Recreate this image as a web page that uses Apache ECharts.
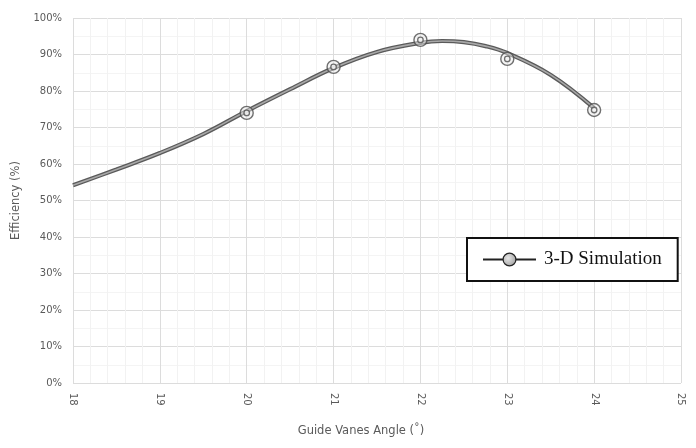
<!DOCTYPE html>
<html>
<head>
<meta charset="utf-8">
<script src="https://cdn.jsdelivr.net/npm/echarts@6/dist/echarts.min.js"></script>
<style>
  html, body { margin: 0; padding: 0; background: #ffffff; }
  #chart { width: 696px; height: 448px; }
</style>
</head>
<body>
<div id="chart"></div>
<script>
// Fitted efficiency curve, sampled along the guide-vane angle range
const curveAngles = [18, 18.5, 19, 19.5, 20, 20.5, 21, 21.5, 22, 22.25, 22.5, 22.75, 23, 23.5, 24];
const curveEfficiency = [54.2, 58.5, 63.0, 68.2, 74.5, 80.5, 86.3, 90.7, 93.2, 93.7, 93.4, 92.3, 90.4, 84.4, 75.3];

// Simulated operating points
const simAngles = [20, 21, 22, 23, 24];
const simEfficiency = [74.0, 86.6, 94.0, 88.8, 74.8];

// Axis ranges and tick steps
const xRange = [18, 25];
const xStep = 1;
const yRange = [0, 100];
const yStep = 10;

const seriesName = '3-D Simulation';

const curvePairs = curveAngles.map((a, i) => [a, curveEfficiency[i]]);
const simPairs = simAngles.map((a, i) => [a, simEfficiency[i]]);

const tickFont = { fontFamily: 'DejaVu Sans', fontSize: 10, color: '#5a5a5a' };
const titleFont = { fontFamily: 'DejaVu Sans', fontSize: 11.5, color: '#5a5a5a' };

const chart = echarts.init(document.getElementById('chart'), null, { renderer: 'canvas' });

chart.setOption({
  backgroundColor: '#ffffff',
  animation: false,
  grid: { left: 73, right: 15, top: 18, bottom: 65, containLabel: false },
  legend: {
    data: [seriesName],
    left: 467,
    top: 238,
    padding: [12, 16, 12, 15],
    borderColor: '#111111',
    borderWidth: 2,
    backgroundColor: '#ffffff',
    itemWidth: 53,
    itemHeight: 16,
    itemGap: 0,
    textStyle: { fontFamily: 'Liberation Serif', fontSize: 19, color: '#111111', padding: [2, 0, 0, 3] },
    lineStyle: { color: '#222222', width: 2 },
    itemStyle: {
      color: {
        type: 'radial', x: 0.4, y: 0.4, r: 0.7,
        colorStops: [
          { offset: 0, color: '#e6e6e6' },
          { offset: 1, color: '#9a9a9a' }
        ]
      },
      borderColor: '#222222',
      borderWidth: 1.2
    }
  },
  xAxis: {
    type: 'value',
    min: xRange[0],
    max: xRange[1],
    interval: xStep,
    name: 'Guide Vanes Angle (˚)',
    nameLocation: 'middle',
    nameGap: 42,
    nameTextStyle: Object.assign({ padding: [0, 32, 0, 0] }, titleFont),
    axisLine: { show: false },
    axisTick: { show: false },
    axisLabel: Object.assign({ rotate: -90, margin: 10 }, tickFont),
    splitLine: { show: true, lineStyle: { color: '#dcdcdc', width: 1 } },
    minorTick: { show: false, splitNumber: 5 },
    minorSplitLine: { show: true, lineStyle: { color: '#f2f2f2', width: 1 } }
  },
  yAxis: {
    type: 'value',
    min: yRange[0],
    max: yRange[1],
    interval: yStep,
    name: 'Efficiency (%)',
    nameLocation: 'middle',
    nameGap: 46,
    nameTextStyle: titleFont,
    axisLine: { show: false },
    axisTick: { show: false },
    axisLabel: Object.assign({ formatter: '{value}%', margin: 11 }, tickFont),
    splitLine: { show: true, lineStyle: { color: '#dcdcdc', width: 1 } },
    minorTick: { show: false, splitNumber: 2 },
    minorSplitLine: { show: true, lineStyle: { color: '#f4f4f4', width: 1 } }
  },
  series: [
    {
      name: seriesName,
      type: 'line',
      data: curvePairs,
      smooth: 0.4,
      symbol: 'circle',
      showSymbol: false,
      lineStyle: { color: '#5a5a5a', width: 4.2 },
      itemStyle: { color: '#5a5a5a' },
      z: 2
    },
    {
      name: 'curve-core',
      type: 'line',
      data: curvePairs,
      smooth: 0.4,
      showSymbol: false,
      lineStyle: { color: '#a8a8a8', width: 1.6 },
      z: 3
    },
    {
      name: 'points-outer',
      type: 'scatter',
      data: simPairs,
      symbol: 'circle',
      symbolSize: 13,
      itemStyle: { color: 'rgba(235,235,235,0.6)', borderColor: '#4e4e4e', borderWidth: 1.4 },
      z: 4
    },
    {
      name: 'points-inner',
      type: 'scatter',
      data: simPairs,
      symbol: 'circle',
      symbolSize: 5.5,
      itemStyle: { color: '#f4f4f4', borderColor: '#4e4e4e', borderWidth: 1.3 },
      z: 5
    }
  ]
});
</script>
</body>
</html>
